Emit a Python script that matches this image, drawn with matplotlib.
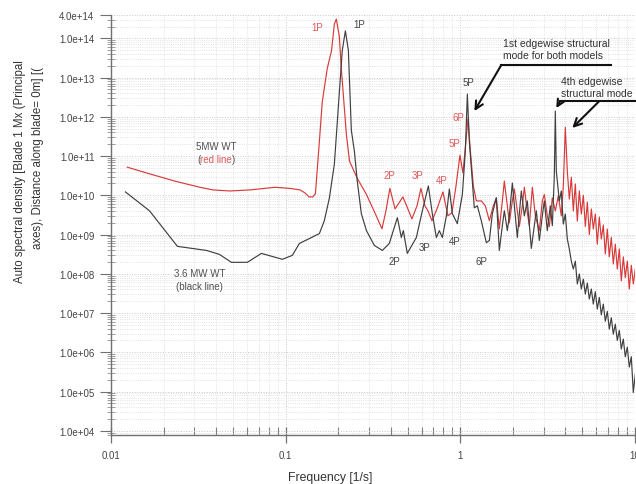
import numpy as np
import matplotlib
matplotlib.use("Agg")
import matplotlib.pyplot as plt
from matplotlib.ticker import FixedLocator, LogLocator, NullFormatter, FuncFormatter

plt.rcParams['font.family'] = ['Liberation Sans', 'DejaVu Sans']

# ---------------- data ----------------
red_freq = [0.0124, 0.0167, 0.0232, 0.0323, 0.0384, 0.048, 0.0625, 0.0869, 0.106, 0.121,
            0.129, 0.136, 0.143, 0.148, 0.156, 0.162, 0.173, 0.183, 0.190, 0.195,
            0.203, 0.208, 0.2226, 0.232, 0.257, 0.290, 0.324, 0.356, 0.375, 0.395,
            0.423, 0.469, 0.501, 0.528, 0.565, 0.595, 0.627, 0.653, 0.688, 0.735,
            0.795, 0.849, 0.895, 0.944, 0.995, 1.035, 1.106, 1.141, 1.187, 1.235,
            1.318, 1.390, 1.466, 1.545, 1.607, 1.672, 1.740, 1.786, 1.858, 1.908,
            1.985, 2.038, 2.120, 2.177, 2.264, 2.325, 2.418, 2.483, 2.584, 2.688,
            2.833, 2.947, 3.026, 3.147, 3.232, 3.363, 3.498, 3.639, 3.785, 3.887,
            3.99, 4.098, 4.207, 4.319, 4.435, 4.553, 4.675, 4.800, 4.928, 5.060,
            5.195, 5.333, 5.476, 5.622, 5.772, 5.926, 6.084, 6.247, 6.414, 6.585,
            6.761, 6.941, 7.127, 7.317, 7.512, 7.713, 7.919, 8.130, 8.348, 8.570,
            8.799, 9.035, 9.276, 9.524, 9.779, 10.04]
red_psd = [5.2e10, 3.5e10, 2.3e10, 1.6e10, 1.37e10, 1.29e10, 1.37e10, 1.6e10, 1.5e10, 1.37e10,
           1.15e10, 9.1e9, 9.1e9, 1.1e10, 2.4e11, 2.4e12, 1.7e13, 4.8e13, 2.3e14, 3.1e14,
           1.1e14, 1.8e13, 3.6e11, 7.4e10, 2.7e10, 1.05e10, 3.6e9, 1.4e9, 4.0e9, 1.5e10,
           4.5e9, 9.1e9, 4.5e9, 2.5e9, 5.4e9, 1.5e10, 5.4e9, 4.0e9, 2.25e9, 4.5e9,
           1.22e10, 3.0e9, 3.6e9, 1.7e10, 1.05e11, 3.7e10, 8.8e11, 1.4e11, 1.73e10, 7.2e9,
           7.2e9, 5.4e9, 2.26e9, 5.4e9, 8.6e9, 1.4e9, 7.2e9, 2.3e10, 5.4e9, 2.0e9,
           7.2e9, 1.45e10, 4.0e9, 1.6e9, 5.4e9, 1.6e10, 3.6e9, 1.69e9, 1.6e10, 3.0e9,
           1.26e9, 7.2e9, 1.05e10, 3.0e9, 1.6e9, 8.6e9, 4.0e9, 9.7e9, 3.0e9, 1.73e10,
           5.4e11, 4.1e10, 8.0e9, 2.9e10, 4.0e9, 1.94e10, 2.2e9, 1.3e10, 3.33e9, 1.0e10,
           1.6e9, 6.7e9, 1.0e9, 4.47e9, 1.38e9, 3.33e9, 5.7e8, 2.8e9, 7.7e8, 1.75e9,
           3.19e8, 1.38e9, 2.7e8, 8.5e8, 1.77e8, 5.7e8, 1.32e8, 4.27e8, 6.6e7, 2.7e8,
           8.0e7, 2.1e8, 4.1e7, 1.65e8, 5.5e7, 1.32e8]

black_freq = [0.01209, 0.0166, 0.0240, 0.0352, 0.0417, 0.0489, 0.0604, 0.0726, 0.0958, 0.1092,
              0.1198, 0.1367, 0.156, 0.1665, 0.178, 0.190, 0.203, 0.211, 0.2197, 0.2285,
              0.2377, 0.2473, 0.257, 0.2712, 0.290, 0.322, 0.3577, 0.392, 0.436, 0.4594,
              0.4717, 0.497, 0.560, 0.606, 0.656, 0.6914, 0.729, 0.758, 0.789, 0.832,
              0.865, 0.900, 0.961, 1.027, 1.068, 1.097, 1.126, 1.171, 1.202, 1.251,
              1.318, 1.409, 1.466, 1.525, 1.607, 1.672, 1.740, 1.786, 1.858, 1.908,
              1.985, 2.064, 2.120, 2.234, 2.325, 2.418, 2.550, 2.652, 2.723, 2.833,
              2.947, 3.026, 3.147, 3.274, 3.363, 3.452, 3.498, 3.544, 3.687, 3.785,
              3.887, 3.99, 4.098, 4.207, 4.319, 4.435, 4.553, 4.675, 4.800, 4.928,
              5.060, 5.195, 5.333, 5.476, 5.622, 5.772, 5.926, 6.084, 6.247, 6.414,
              6.585, 6.761, 6.941, 7.127, 7.317, 7.512, 7.713, 7.919, 8.130, 8.348,
              8.570, 8.799, 9.035, 9.276, 9.524, 9.779, 10.04]
black_psd = [1.22e10, 4.04e9, 5.0e8, 3.94e8, 3.13e8, 1.96e8, 1.96e8, 3.31e8, 2.34e8, 2.95e8,
             5.93e8, 7.9e8, 1.06e9, 2.26e9, 8.6e9, 6.2e10, 4.3e12, 5.0e13, 1.55e14, 5.0e13,
             4.5e11, 1.35e11, 2.31e10, 3.4e9, 1.26e9, 5.27e8, 3.94e8, 5.93e8, 2.7e9, 8.4e8,
             1.26e9, 3.31e8, 8.4e8, 4.04e9, 1.73e10, 3.4e9, 8.4e8, 1.26e9, 8.4e8, 3.0e9,
             1.45e10, 3.4e9, 1.9e9, 1.05e10, 1.32e11, 3.8e12, 2.37e11, 2.31e10, 4.8e9, 5.4e9,
             2.26e9, 6.2e8, 7.05e8, 3.4e9, 8.6e9, 3.94e8, 1.69e9, 4.04e9, 1.26e9, 3.0e9,
             2.06e10, 3.0e9, 8.4e8, 1.29e10, 3.0e9, 7.2e9, 4.43e8, 1.69e9, 4.04e9, 7.05e8,
             3.0e9, 7.2e9, 1.26e9, 5.4e9, 1.69e9, 3.09e10, 1.4e12, 4.13e10, 7.2e9, 1.29e10,
             1.85e9, 3.33e9, 7.7e8, 4.27e8, 2.1e8, 1.32e8, 2.1e8, 5.5e7, 9.9e7, 4.1e7,
             7.3e7, 3.05e7, 5.8e7, 2.27e7, 4.1e7, 1.69e7, 3.5e7, 1.26e7, 2.5e7, 9.0e6,
             1.69e7, 6.2e6, 1.1e7, 3.9e6, 7.6e6, 2.9e6, 5.2e6, 2.0e6, 3.6e6, 1.21e6,
             2.17e6, 7.7e5, 1.35e6, 4.2e5, 7.7e5, 9.5e4, 2.8e5]

y_ticks = [1e4, 1e5, 1e6, 1e7, 1e8, 1e9, 1e10, 1e11, 1e12, 1e13, 1e14, 4e14]
x_ticks = [0.01, 0.1, 1, 10]
x_tick_labels = ["0.01", "0.1", "1", "10"]

RED = '#d83a3a'
BLK = '#404040'
RED_TXT = '#e05a5a'
GRAY_TXT = '#505050'

# ---------------- figure ----------------
fig = plt.figure(figsize=(6.36, 4.85), dpi=100)
ax = fig.add_axes([111/636, 49/485, 524/636, (436-15.7)/485])

ax.plot(red_freq, red_psd, color=RED, lw=0.85, zorder=3)
ax.plot(black_freq, black_psd, color=BLK, lw=0.85, zorder=4)

ax.set_xscale('log')
ax.set_yscale('log')
ax.set_xlim(0.01, 10)
ax.set_ylim(7.8e3, 4e14)

ax.xaxis.set_major_locator(FixedLocator(x_ticks))
ax.set_xticklabels(x_tick_labels)
ax.xaxis.set_minor_locator(LogLocator(base=10, subs=np.arange(2, 10), numticks=100))
ax.xaxis.set_minor_formatter(NullFormatter())

ax.yaxis.set_major_locator(FixedLocator(y_ticks))
ax.yaxis.set_major_formatter(FuncFormatter(lambda v, p: f"{v:.1e}"))
ax.yaxis.set_minor_locator(LogLocator(base=10, subs=np.arange(2, 10), numticks=100))
ax.yaxis.set_minor_formatter(NullFormatter())

for s in ['top', 'right']:
    ax.spines[s].set_visible(False)
for s in ['left', 'bottom']:
    ax.spines[s].set_color('#707070')
    ax.spines[s].set_linewidth(1.0)

ax.tick_params(axis='y', which='major', direction='out', length=8, width=0.8,
               color='#707070', labelsize=7, labelcolor='#444444', pad=4)
ax.tick_params(axis='y', which='minor', direction='inout', length=6, width=0.6, color='#909090')
ax.tick_params(axis='x', which='major', direction='inout', length=12, width=0.9,
               color='#707070', labelsize=7, labelcolor='#444444', pad=5)
ax.tick_params(axis='x', which='minor', direction='in', length=6, width=0.8, color='#808080')

ax.grid(which='major', color='#c8c8c8', ls=':', lw=0.7)
ax.grid(which='minor', color='#dadada', ls=':', lw=0.6)
ax.set_axisbelow(True)

# axis labels
fig.text(20/636, 1-171.5/485, "Auto spectral density [Blade 1 Mx (Principal",
         rotation=90, ha='center', va='center', fontsize=8.3, color='#333333')
fig.text(38/636, 1-158.5/485, "axes), Distance along blade= 0m] [(",
         rotation=90, ha='center', va='center', fontsize=8.3, color='#333333')
fig.text(330/636, 1-478/485, "Frequency [1/s]", ha='center', va='center',
         fontsize=8.8, color='#333333')

# harmonic labels
fs = 7
red_labels = [("1P", 0.1518, 1.94e14), ("6P", 0.974, 9.9e11), ("5P", 0.924, 2.15e11),
              ("2P", 0.392, 3.28e10), ("3P", 0.567, 3.28e10), ("4P", 0.778, 2.45e10)]
black_labels = [("1P", 0.264, 2.31e14), ("5P", 1.111, 7.7e12), ("2P", 0.419, 2.11e8),
                ("3P", 0.622, 4.8e8), ("4P", 0.924, 6.8e8), ("6P", 1.319, 2.11e8)]
for t, x, y in red_labels:
    ax.text(x, y, t, color=RED_TXT, fontsize=fs, ha='center', va='center', zorder=6)
for t, x, y in black_labels:
    ax.text(x, y, t, color='#444444', fontsize=fs, ha='center', va='center', zorder=6)

# model labels
ax.text(0.0401, 1.8e11, "5MW WT", color=GRAY_TXT, fontsize=7, ha='center', va='center')
t_red = ax.text(0.0401, 8.4e10, "red line", color=RED_TXT, fontsize=7, ha='center', va='center')
ax.annotate("(", xy=(0, 0.5), xycoords=t_red, ha='right', va='center', fontsize=7, color=GRAY_TXT)
ax.annotate(")", xy=(1, 0.5), xycoords=t_red, ha='left', va='center', fontsize=7, color=GRAY_TXT)
ax.text(0.0321, 1.04e8, "3.6 MW WT", color=GRAY_TXT, fontsize=7, ha='center', va='center')
ax.text(0.0321, 4.9e7, "(black line)", color=GRAY_TXT, fontsize=7, ha='center', va='center')

# structural mode annotations
ax.text(1.763, 5.3e13, "1st edgewise structural\nmode for both models", fontsize=7.5,
        color='#333333', ha='left', va='center', linespacing=1.25, zorder=6)
ax.plot([1.717, 7.32], [2.1e13, 2.1e13], color='#111111', lw=1.5, zorder=6)
ax.annotate("", xy=(1.203, 1.4e12), xytext=(1.717, 2.1e13),
            arrowprops=dict(arrowstyle='->', color='#111111', lw=1.5, mutation_scale=14,
                            shrinkA=0, shrinkB=0), zorder=6)

ax.text(3.785, 5.9e12, "4th edgewise\nstructural mode", fontsize=7.5,
        color='#333333', ha='left', va='center', linespacing=1.25, zorder=6)
ax.plot([3.737, 10.5], [2.52e12, 2.52e12], color='#111111', lw=1.5, zorder=6, clip_on=False)
ax.annotate("", xy=(3.544, 1.67e12), xytext=(3.737, 2.52e12),
            arrowprops=dict(arrowstyle='->', color='#111111', lw=1.5, mutation_scale=12,
                            shrinkA=0, shrinkB=0), zorder=6)
ax.annotate("", xy=(4.375, 5.2e11), xytext=(6.25, 2.52e12),
            arrowprops=dict(arrowstyle='->', color='#111111', lw=1.5, mutation_scale=14,
                            shrinkA=0, shrinkB=0), zorder=6)

fig.savefig("out.png", dpi=100)
